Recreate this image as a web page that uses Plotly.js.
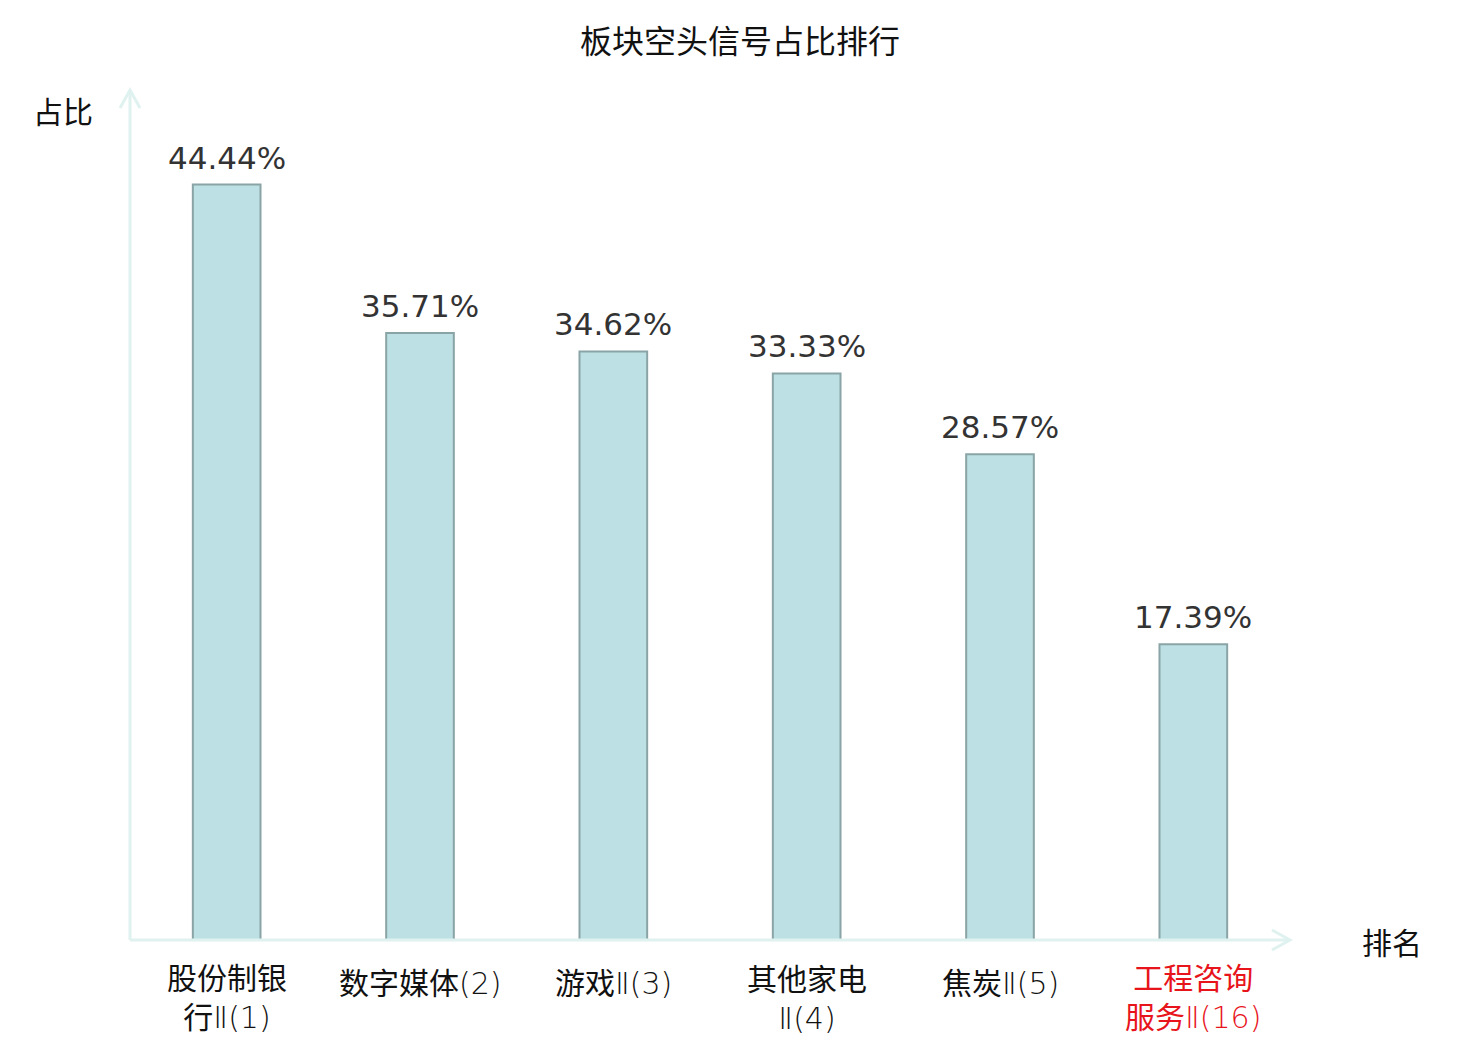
<!DOCTYPE html>
<html>
<head>
<meta charset="utf-8">
<script src="https://cdn.plot.ly/plotly-3.0.1.min.js"></script>
<style>body{margin:0;background:#fff}#figure{width:1480px;height:1040px}</style>
</head>
<body>
<div id="figure"></div>
<script>
FIGURE = document.getElementById('figure')

// sectors, ranked by share of short signals
let categories = ['股份制银行Ⅱ(1)', '数字媒体(2)', '游戏Ⅱ(3)', '其他家电Ⅱ(4)', '焦炭Ⅱ(5)', '工程咨询服务Ⅱ(16)']
// tick labels wrapped the way the picture wraps them
let tickLabels = ['股份制银<br>行Ⅱ(1)', '数字媒体(2)', '游戏Ⅱ(3)', '其他家电<br>Ⅱ(4)', '焦炭Ⅱ(5)', '工程咨询<br>服务Ⅱ(16)']
let tickColors = ['#111', '#111', '#111', '#111', '#111', '#e8141b']
let shares = [44.44, 35.71, 34.62, 33.33, 28.57, 17.39]

const NUM_FONT = 'DejaVu Sans, Noto Sans CJK SC, sans-serif'
const CJK_FONT = 'Noto Sans CJK SC, DejaVu Sans, sans-serif'
const AXIS = '#dff2ef'

// latin bits of the tick labels are drawn in a thin face
function thinLatin(s) {
    return s.replace(/[Ⅱ()0-9]+/g, m => '<span style="font-family:DejaVu Sans;font-weight:200">' + m + '</span>')
}

let trace = {
    x: categories, y: shares,
    type: 'bar',
    width: 0.35,
    marker: {color: '#bce0e3', line: {color: '#8aa4a6', width: 2}},
    hoverinfo: 'none'
}

let labels = categories.map((c, i) => ({
    x: c, y: shares[i], xref: 'x', yref: 'y',
    text: shares[i].toFixed(2) + '%',
    showarrow: false, yanchor: 'bottom', yshift: 7,
    font: {size: 31, color: '#333333', family: NUM_FONT}
}))

categories.forEach((c, i) => {
    let twoLines = tickLabels[i].includes('<br>')
    labels.push({x: c, y: 0, xref: 'x', yref: 'y', text: thinLatin(tickLabels[i]), showarrow: false,
        yanchor: 'middle', yshift: twoLines ? -55 : -41,
        font: {size: 30, color: tickColors[i], family: CJK_FONT}})
})

labels.push({text: '占比', xref: 'paper', yref: 'paper', x: -0.058, y: 1.0, showarrow: false,
    xanchor: 'center', yanchor: 'middle', yshift: -20, font: {size: 30, color: '#111', family: CJK_FONT}})
labels.push({text: '排名', xref: 'paper', yref: 'paper', x: 1.0, y: 0, showarrow: false,
    xanchor: 'center', yanchor: 'middle', xshift: 102, yshift: -1, font: {size: 30, color: '#111', family: CJK_FONT}})

// axis lines with open arrowheads
let shapes = [
    {type: 'line', xref: 'paper', yref: 'paper', x0: 0, x1: 0, y0: 0, y1: 1, line: {color: AXIS, width: 3}},
    {type: 'line', xref: 'paper', yref: 'paper', x0: 0, x1: 1, y0: 0, y1: 0, line: {color: AXIS, width: 3}},
    {type: 'path', xref: 'paper', yref: 'paper', xsizemode: 'pixel', ysizemode: 'pixel', xanchor: 0, yanchor: 1,
        path: 'M -10 -18 L 0 0 L 10 -18', line: {color: AXIS, width: 3}},
    {type: 'path', xref: 'paper', yref: 'paper', xsizemode: 'pixel', ysizemode: 'pixel', xanchor: 1, yanchor: 0,
        path: 'M -18 10 L 0 0 L -18 -10', line: {color: AXIS, width: 3}}
]

let layout = {
    width: 1480, height: 1040,
    margin: {l: 130, r: 190, t: 90, b: 100},
    paper_bgcolor: '#ffffff', plot_bgcolor: '#ffffff',
    showlegend: false,
    title: {text: '板块空头信号占比排行', x: 0.5, xref: 'container', y: 0.96, yanchor: 'middle',
        font: {size: 32, color: '#111', family: CJK_FONT}},
    xaxis: {
        range: [-0.5, 5.5], showgrid: false, zeroline: false, showline: false,
        showticklabels: false, ticks: ''
    },
    yaxis: {range: [0, 50], showgrid: false, zeroline: false, showline: false, showticklabels: false, ticks: ''},
    annotations: labels,
    shapes: shapes
}

Plotly.newPlot(FIGURE, [trace], layout, {displayModeBar: false, staticPlot: true});
</script>
</body>
</html>
